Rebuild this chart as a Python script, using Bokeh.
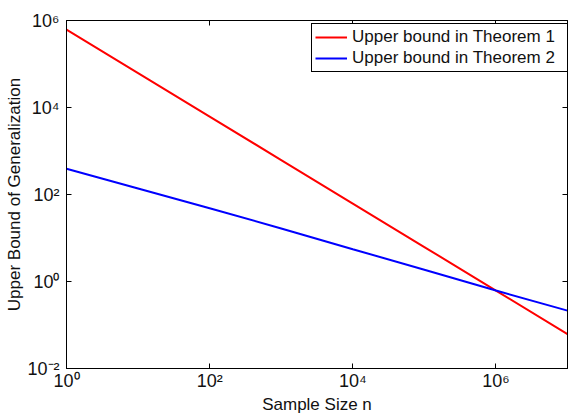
from bokeh.plotting import figure
from bokeh.models import LogAxis, FixedTicker, CustomJSTickFormatter, Legend, LegendItem
from bokeh.embed import file_html
from bokeh.resources import INLINE

# ---- data ----
sample_size = [1, 1e1, 1e2, 1e3, 1e4, 1e5, 1e6, 1e7]
bound_theorem1 = [6.2e5, 6.2e4, 6.2e3, 620, 62, 6.2, 0.62, 0.062]
bound_theorem2 = [389, 138, 48.4, 16.6, 5.53, 1.86, 0.62, 0.214]
series_names = ["Upper bound in Theorem 1", "Upper bound in Theorem 2"]
x_tick_values = [1, 1e2, 1e4, 1e6]
y_tick_values = [1e-2, 1, 1e2, 1e4, 1e6]
x_label = "Sample Size n"
y_label = "Upper Bound of Generalization"

FONT = "Liberation Sans"

p = figure(width=568, height=416, x_axis_type="log", y_axis_type="log",
           x_range=(1, 1e7), y_range=(1e-2, 1e6),
           output_backend="svg", toolbar_location=None,
           min_border_left=66, min_border_right=1, min_border_top=20,
           min_border_bottom=47)

sup_code = r"""
const sup = {"0":"\u2070","1":"\u00b9","2":"\u00b2","3":"\u00b3","4":"\u2074",
             "5":"\u2075","6":"\u2076","7":"\u2077","8":"\u2078","9":"\u2079","-":"\u207b"};
const e = Math.round(Math.log10(tick));
return "10" + String(e).split("").map(c => sup[c]).join("");
"""


def style_axis(ax, ticks, show_labels):
    ax.ticker = FixedTicker(ticks=ticks)
    ax.major_tick_in = 5
    ax.major_tick_out = 0
    ax.minor_tick_line_color = None
    ax.axis_line_color = "black"
    ax.axis_line_width = 1
    ax.major_tick_line_color = "black"
    ax.major_tick_line_width = 1
    if show_labels:
        ax.formatter = CustomJSTickFormatter(code=sup_code)
        ax.major_label_text_font = FONT
        ax.major_label_text_font_size = "18px"
        ax.major_label_text_color = "#111111"
        ax.axis_label_text_font = FONT
        ax.axis_label_text_font_size = "17px"
        ax.axis_label_text_font_style = "normal"
        ax.axis_label_text_color = "#111111"
    else:
        ax.formatter = CustomJSTickFormatter(code="return '';")
        ax.major_label_standoff = 0
        ax.major_label_text_font_size = "0px"


xa = p.xaxis[0]
ya = p.yaxis[0]
style_axis(xa, x_tick_values, True)
style_axis(ya, y_tick_values, True)
xa.axis_label = x_label
ya.axis_label = y_label
xa.major_label_standoff = 2
xa.axis_label_standoff = 1
ya.major_label_standoff = 7
ya.axis_label_standoff = 0

top_ax = LogAxis()
right_ax = LogAxis()
style_axis(top_ax, x_tick_values, False)
style_axis(right_ax, y_tick_values, False)
p.add_layout(top_ax, "above")
p.add_layout(right_ax, "right")

p.grid.visible = False
p.outline_line_color = "black"
p.outline_line_width = 1
p.background_fill_color = "white"
p.border_fill_color = "white"

r1 = p.line(sample_size, bound_theorem1, line_color="#ff0000", line_width=2)
r2 = p.line(sample_size, bound_theorem2, line_color="#0000ff", line_width=2)

legend = Legend(items=[LegendItem(label=series_names[0], renderers=[r1]),
                       LegendItem(label=series_names[1], renderers=[r2])],
                location=(245, 296))
legend.label_text_font = FONT
legend.label_text_font_size = "17px"
legend.label_text_color = "#111111"
legend.border_line_color = "black"
legend.border_line_width = 1
legend.border_line_alpha = 1
legend.background_fill_color = "white"
legend.background_fill_alpha = 1
legend.padding = 3
legend.spacing = 1
legend.margin = 0
legend.glyph_width = 32
legend.glyph_height = 20
legend.label_height = 20
legend.label_standoff = 5
legend.label_width = 212
p.add_layout(legend, "center")

open("out.html", "w").write(file_html(p, INLINE))
